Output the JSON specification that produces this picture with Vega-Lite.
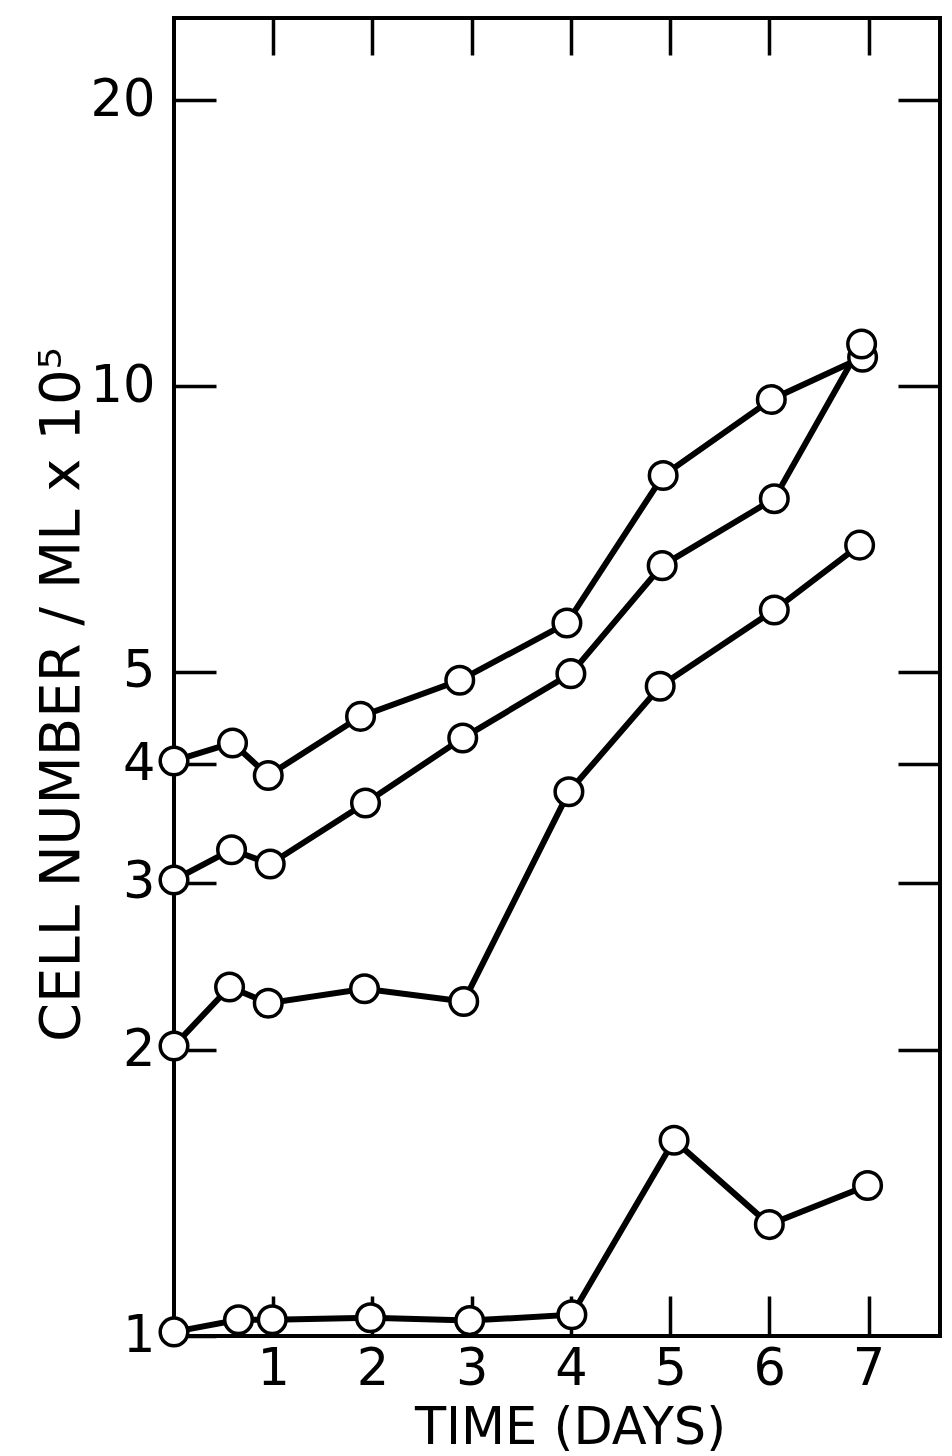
{
  "$schema": "https://vega.github.io/schema/vega-lite/v6.json",
  "width": 766,
  "height": 1318,
  "autosize": {"type": "none"},
  "padding": {"left": 174, "top": 18, "right": 12, "bottom": 120},
  "background": "white",
  "config": {
    "view": {"stroke": "black", "strokeWidth": 4},
    "axis": {
      "grid": false,
      "domain": false,
      "tickColor": "black",
      "tickWidth": 3.5,
      "labelFont": "DejaVu Sans",
      "labelFontSize": 51,
      "labelColor": "black",
      "titleFont": "DejaVu Sans",
      "titleColor": "black",
      "titleFontWeight": "normal",
      "labelFlush": false,
      "labelOverlap": false
    }
  },
  "data": {
    "values": [
      {"series": "a", "day": 0, "cells": 4.03},
      {"series": "a", "day": 0.59, "cells": 4.21},
      {"series": "a", "day": 0.95, "cells": 3.89},
      {"series": "a", "day": 1.88, "cells": 4.49},
      {"series": "a", "day": 2.88, "cells": 4.9},
      {"series": "a", "day": 3.96, "cells": 5.63},
      {"series": "a", "day": 4.93, "cells": 8.05},
      {"series": "a", "day": 6.02, "cells": 9.68},
      {"series": "a", "day": 6.94, "cells": 10.72},
      {"series": "b", "day": 0, "cells": 3.02},
      {"series": "b", "day": 0.58, "cells": 3.25},
      {"series": "b", "day": 0.97, "cells": 3.14},
      {"series": "b", "day": 1.93, "cells": 3.64},
      {"series": "b", "day": 2.91, "cells": 4.26},
      {"series": "b", "day": 4.0, "cells": 4.98},
      {"series": "b", "day": 4.92, "cells": 6.47},
      {"series": "b", "day": 6.05, "cells": 7.61},
      {"series": "b", "day": 6.93, "cells": 11.07},
      {"series": "c", "day": 0, "cells": 2.02},
      {"series": "c", "day": 0.56, "cells": 2.33},
      {"series": "c", "day": 0.95, "cells": 2.24},
      {"series": "c", "day": 1.92, "cells": 2.32},
      {"series": "c", "day": 2.92, "cells": 2.25},
      {"series": "c", "day": 3.98, "cells": 3.74},
      {"series": "c", "day": 4.9, "cells": 4.83},
      {"series": "c", "day": 6.05, "cells": 5.81},
      {"series": "c", "day": 6.91, "cells": 6.8},
      {"series": "d", "day": 0, "cells": 1.01},
      {"series": "d", "day": 0.65, "cells": 1.04},
      {"series": "d", "day": 0.99, "cells": 1.04},
      {"series": "d", "day": 1.98, "cells": 1.045},
      {"series": "d", "day": 2.98, "cells": 1.038},
      {"series": "d", "day": 4.01, "cells": 1.053},
      {"series": "d", "day": 5.04, "cells": 1.607},
      {"series": "d", "day": 6.0, "cells": 1.31},
      {"series": "d", "day": 6.99, "cells": 1.44}
    ]
  },
  "layer": [
    {
      "mark": {"type": "line", "color": "black", "strokeWidth": 6},
      "encoding": {
        "detail": {"field": "series", "type": "nominal"},
        "x": {
          "field": "day",
          "type": "quantitative",
          "scale": {"domain": [0, 7.72], "nice": false, "zero": false},
          "axis": {
            "orient": "bottom",
            "values": [1, 2, 3, 4, 5, 6, 7],
            "tickSize": -40,
            "labelPadding": 88,
            "labelBaseline": "alphabetic",
            "title": "TIME (DAYS)",
            "titleFontSize": 51,
            "titleX": 396,
            "titleY": 107,
            "titleAlign": "center",
            "titleBaseline": "alphabetic"
          }
        },
        "y": {
          "field": "cells",
          "type": "quantitative",
          "scale": {"type": "log", "domain": [1, 24.4], "nice": false},
          "axis": {
            "orient": "left",
            "values": [1, 2, 3, 4, 5, 10, 20],
            "tickSize": -42,
            "labelPadding": 61,
            "labelAlign": "right",
            "labelBaseline": "middle",
            "title": "CELL NUMBER / ML x 10⁵",
            "titleFontSize": 56,
            "titleAngle": 270,
            "titleX": -96,
            "titleY": 676,
            "titleAlign": "center",
            "titleBaseline": "alphabetic"
          }
        }
      }
    },
    {
      "mark": {
        "type": "point",
        "shape": "circle",
        "filled": true,
        "fill": "white",
        "stroke": "black",
        "strokeWidth": 3.5,
        "size": 760,
        "opacity": 1
      },
      "encoding": {
        "x": {
          "field": "day",
          "type": "quantitative",
          "scale": {"domain": [0, 7.72], "nice": false, "zero": false},
          "axis": {
            "orient": "top",
            "values": [1, 2, 3, 4, 5, 6, 7],
            "tickSize": -37,
            "labels": false,
            "title": null
          }
        },
        "y": {
          "field": "cells",
          "type": "quantitative",
          "scale": {"type": "log", "domain": [1, 24.4], "nice": false},
          "axis": {
            "orient": "right",
            "values": [2, 3, 4, 5, 10, 20],
            "tickSize": -42,
            "labels": false,
            "title": null
          }
        }
      }
    }
  ]
}
